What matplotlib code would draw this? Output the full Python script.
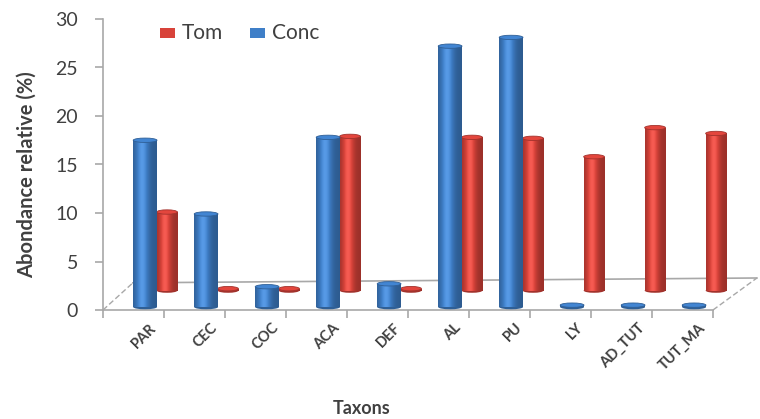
import numpy as np
import matplotlib
matplotlib.use("Agg")
import matplotlib.pyplot as plt
from matplotlib.patches import Rectangle, Ellipse

plt.rcParams['font.family'] = ['Lato', 'DejaVu Sans']

taxons = ['PAR', 'CEC', 'COC', 'ACA', 'DEF', 'AL', 'PU', 'LY', 'AD_TUT', 'TUT_MA']
# column heights above each row's floor
conc = [17.2, 9.6, 2.1, 17.5, 2.4, 26.9, 27.8, 0.2, 0.2, 0.2]
tom = [8.1, 0.2, 0.2, 15.9, 0.2, 15.8, 15.7, 13.8, 16.8, 16.2]
yticks = [0, 5, 10, 15, 20, 25, 30]

BLUE = '#3f7fc8'
RED = '#d8433a'
GRID = '#a8a8a8'
TXT = '#404040'


def shade(color, n=40):
    """horizontal light/dark profile of a cylinder"""
    rgb = np.array(matplotlib.colors.to_rgb(color))
    t = np.linspace(0, 1, n)
    f = 0.72 + 0.42 * np.exp(-((t - 0.38) / 0.28) ** 2)
    cols = np.clip(rgb[None, :] * f[:, None], 0, 1)
    hi = np.clip(f - 1.0, 0, None)[:, None]
    cols = cols + (1 - cols) * hi * 0.6
    return cols[None, :, :]


def cylinder(ax, xc, base, h, w, color, z):
    eh = 0.45
    x0 = xc - w / 2
    dark = np.array(matplotlib.colors.to_rgb(color)) * 0.75
    ax.add_patch(Ellipse((xc, base), w, eh, facecolor=dark, edgecolor='none', zorder=z))
    rect = Rectangle((x0, base), w, h, transform=ax.transData)
    im = ax.imshow(shade(color), extent=(x0, x0 + w, base, base + h),
                   aspect='auto', interpolation='bilinear', zorder=z + 0.1)
    im.set_clip_path(rect)
    top = np.clip(np.array(matplotlib.colors.to_rgb(color)) * 1.05, 0, 1)
    ax.add_patch(Ellipse((xc, base + h), w, eh, facecolor=top,
                         edgecolor=dark, lw=0.6, zorder=z + 0.2))


fig = plt.figure(figsize=(7.6, 4.19), dpi=100)
ax = fig.add_axes([103 / 760, 1 - 310 / 419, 1 - 103 / 760, (310 - 19) / 419])

n = len(taxons)
xs = np.arange(n)

# floor of the 3d plot
ax.plot([0, n], [0, 0], color=GRID, lw=1.2, zorder=1, clip_on=False)
ax.plot([0.49, 10.72], [2.8, 3.3], color=GRID, lw=1.2, zorder=1, clip_on=False)
ax.plot([0, 0.49], [0, 2.8], color=GRID, lw=1.0, ls=(0, (4, 2)), zorder=1, clip_on=False)
ax.plot([n, 10.72], [0, 3.3], color=GRID, lw=1.0, ls=(0, (4, 2)), zorder=1, clip_on=False)

# back row: Tom, front row: Conc
for i in range(n):
    cylinder(ax, xs[i] + 1.05, 2.0, tom[i], 0.34, RED, 2)
for i in range(n):
    cylinder(ax, xs[i] + 0.69, 0.3, conc[i], 0.39, BLUE, 3)

ax.set_xlim(0, (760 - 103) / 61)
ax.set_ylim(0, 30)

for s in ['top', 'right', 'bottom']:
    ax.spines[s].set_visible(False)
ax.spines['left'].set_color(GRID)
ax.spines['left'].set_linewidth(1.2)
ax.set_yticks(yticks)
ax.set_yticklabels([str(v) for v in yticks], fontsize=14, color=TXT)
ax.tick_params(axis='y', length=6, color=GRID, width=1.2, pad=12)
ax.set_xticks(np.arange(n + 1))
ax.set_xticklabels([])
ax.tick_params(axis='x', length=6, color=GRID, width=1.2, direction='out')

for i, name in enumerate(taxons):
    ax.text(xs[i] + 0.92, -1.1, name, rotation=45, ha='right', va='top',
            fontsize=10.5, fontweight='bold', color=TXT, clip_on=False)

fig.text(27 / 760, 1 - 175 / 419, 'Abondance relative (%)', rotation=90,
         ha='center', va='center', fontsize=14.5, fontweight='bold', color=TXT)
fig.text(362 / 760, 1 - 408 / 419, 'Taxons', ha='center', va='center',
         fontsize=13, fontweight='bold', color=TXT)

# legend
for x0, lab, col in [(160, 'Tom', RED), (250, 'Conc', BLUE)]:
    fig.add_artist(Rectangle((x0 / 760, 1 - 38 / 419), 15 / 760, 10 / 419,
                             transform=fig.transFigure, facecolor=col, edgecolor='none'))
    fig.text((x0 + 22) / 760, 1 - 33 / 419, lab, ha='left', va='center',
             fontsize=15, color=TXT)

fig.savefig('out.png', dpi=100)
